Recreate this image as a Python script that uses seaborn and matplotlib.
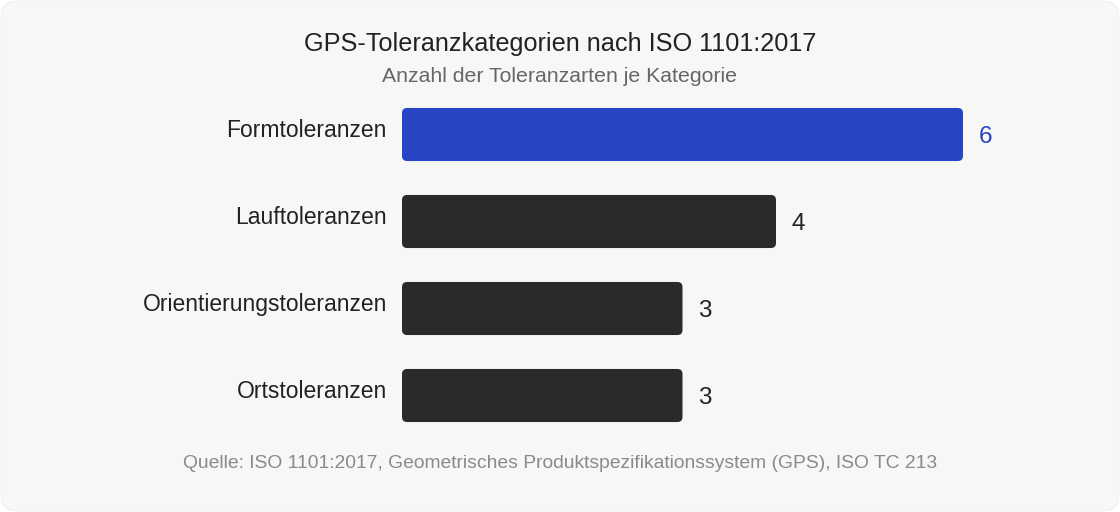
import numpy as np
import pandas as pd
import matplotlib
matplotlib.use('Agg')
import matplotlib.pyplot as plt
import seaborn as sns
from matplotlib.patches import FancyBboxPatch

categories = ['Formtoleranzen', 'Lauftoleranzen', 'Orientierungstoleranzen', 'Ortstoleranzen']
counts = [6, 4, 3, 3]
highlight = 'Formtoleranzen'

TITLE = 'GPS-Toleranzkategorien nach ISO 1101:2017'
SUBTITLE = 'Anzahl der Toleranzarten je Kategorie'
SOURCE = 'Quelle: ISO 1101:2017, Geometrisches Produktspezifikationssystem (GPS), ISO TC 213'

BG = '#f7f7f5'
BLUE = '#2744c4'
DARK = '#2a2a2c'
TEXT = '#222222'

sns.set_theme(style='white')
plt.rcParams['font.family'] = ['Liberation Sans', 'DejaVu Sans']

df = pd.DataFrame({'kategorie': categories, 'anzahl': counts})
colors = [BLUE if c == highlight else DARK for c in categories]

fig = plt.figure(figsize=(11.2, 5.12), dpi=100)
fig.patch.set_facecolor('white')
fig.patches.append(FancyBboxPatch((0.001, 0.002), 0.998, 0.996,
                                  boxstyle='round,pad=0,rounding_size=0.014',
                                  mutation_aspect=2.19,
                                  transform=fig.transFigure, facecolor=BG,
                                  edgecolor='#f1f1ef', linewidth=0.8, zorder=-10))

# axes: x from px 402, y centers 134.5 .. 395.5
px_unit = 93.5
left, right = 402, 1100
ax = fig.add_axes([left / 1120, 1 - 439 / 512, (right - left) / 1120, 348 / 512])
ax.set_facecolor('none')
sns.barplot(data=df, y='kategorie', x='anzahl', hue='kategorie', palette=colors,
            legend=False, width=0.61, ax=ax, saturation=1)
ax.set_xlim(0, (right - left) / px_unit)
ax.set_ylim(3.5, -0.5)

# rounded bars
for p in list(ax.patches):
    x0, y0 = p.get_x(), p.get_y()
    w, h = p.get_width(), p.get_height()
    fc = p.get_facecolor()
    p.remove()
    ax.add_patch(FancyBboxPatch((x0, y0), w, h,
                                boxstyle='round,pad=0,rounding_size=0.055',
                                mutation_aspect=1.07, facecolor=fc,
                                edgecolor='none'))

for i, (cat, v) in enumerate(zip(categories, counts)):
    col = BLUE if cat == highlight else TEXT
    ax.text(v + 16 / px_unit, i + 0.03, str(v), ha='left', va='center',
            fontsize=17.5, color=col)
    ax.text(-15 / px_unit, i - 0.05, cat, ha='right', va='center',
            fontsize=16.5, color=TEXT)

ax.set_xticks([])
ax.set_yticks([])
ax.set_xlabel('')
ax.set_ylabel('')
sns.despine(ax=ax, left=True, bottom=True)

fig.text(0.5, 1 - 44 / 512, TITLE, ha='center', va='center', fontsize=18.2, color=TEXT)
fig.text(0.5, 1 - 77 / 512, SUBTITLE, ha='center', va='center', fontsize=15.3, color='#666666')
fig.text(0.5, 1 - 463 / 512, SOURCE, ha='center', va='center', fontsize=13.9, color='#8a8a8a')

fig.savefig('out.png', dpi=100, facecolor='white')
